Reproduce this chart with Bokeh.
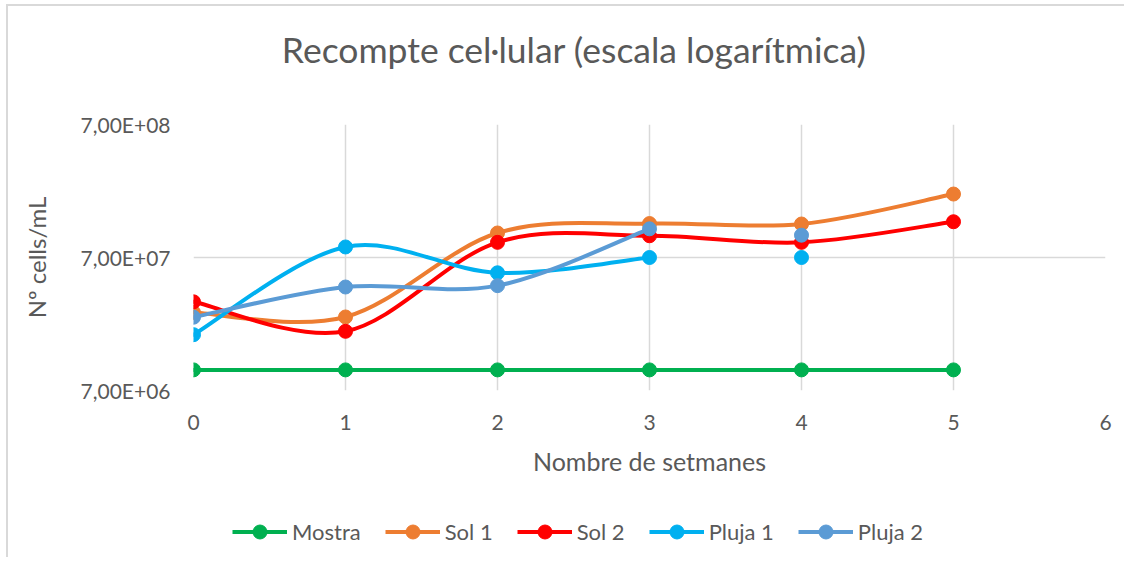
import numpy as np
from bokeh.plotting import figure
from bokeh.layouts import column
from bokeh.models import Range1d, FixedTicker, Legend, LegendItem, Label
from bokeh.embed import file_html
from bokeh.resources import INLINE

# ---------------- data ----------------
title_text = "Recompte cel·lular (escala logarítmica)"
x_label = "Nombre de setmanes"
y_label = "Nº cells/mL"
weeks = [0, 1, 2, 3, 4, 5]
x_ticks = [0, 1, 2, 3, 4, 5, 6]
y_ticks = [7e6, 7e7, 7e8]
y_tick_labels = ["7,00E+06", "7,00E+07", "7,00E+08"]

series_names = ["Mostra", "Sol 1", "Sol 2", "Pluja 1", "Pluja 2"]
mostra = [1.0e7, 1.0e7, 1.0e7, 1.0e7, 1.0e7, 1.0e7]
sol1 = [2.7e7, 2.5e7, 1.07e8, 1.26e8, 1.25e8, 2.1e8]
sol2 = [3.25e7, 1.95e7, 9.1e7, 1.02e8, 9.1e7, 1.3e8]
pluja1 = [1.84e7, 8.4e7, 5.37e7, 7.0e7, 7.0e7]
pluja2 = [2.49e7, 4.2e7, 4.3e7, 1.15e8, 1.03e8]
# how many leading points of each series are joined by the smoothed line
joined = [6, 6, 6, 4, 4]
colors = ["#00B050", "#ED7D31", "#FF0000", "#00B0F0", "#5B9BD5"]
series_values = [mostra, sol1, sol2, pluja1, pluja2]

FONT = "Lato"
TXT = "#595959"
GRID = "#d9d9d9"


def smooth_segments(xs, ys):
    """Excel-like smoothed line: cubic Bezier segments (Catmull-Rom, tension 1/6)
    computed in (x, log10 y) space, returned in data space."""
    X = np.asarray(xs, float)
    L = np.log10(np.asarray(ys, float))
    n = len(X)
    Xp = np.concatenate([[X[0]], X, [X[-1]]])
    Lp = np.concatenate([[L[0]], L, [L[-1]]])
    cx0 = X[:-1] + (Xp[2:n + 1] - Xp[0:n - 1]) / 6.0
    cl0 = L[:-1] + (Lp[2:n + 1] - Lp[0:n - 1]) / 6.0
    cx1 = X[1:] - (Xp[3:n + 2] - Xp[1:n]) / 6.0
    cl1 = L[1:] - (Lp[3:n + 2] - Lp[1:n]) / 6.0
    return dict(x0=X[:-1], y0=10 ** L[:-1], x1=X[1:], y1=10 ** L[1:],
                cx0=cx0, cy0=10 ** cl0, cx1=cx1, cy1=10 ** cl1)


W = 1124
H_TITLE = 90
H_MAIN = 410
H_LEG = 57
ML, MR = 193, 19


def strip(height):
    f = figure(width=W, height=height, output_backend="svg", toolbar_location=None,
               x_axis_location=None, y_axis_location=None,
               x_range=Range1d(0, 1), y_range=Range1d(0, 1),
               min_border_left=ML, min_border_right=MR,
               min_border_top=0, min_border_bottom=0)
    f.outline_line_color = None
    f.xgrid.visible = False
    f.ygrid.visible = False
    f.background_fill_color = None
    f.border_fill_color = None
    return f


# ---- title strip ----
pt = strip(H_TITLE)
pt.add_layout(Label(x=0.4175, y=0.46, text=title_text, text_align="center",
                    text_baseline="middle", text_font=FONT, text_font_size="35.5px",
                    text_color=TXT))

# ---- main chart ----
p = figure(width=W, height=H_MAIN,
           x_range=Range1d(0, 6), y_range=Range1d(7e6, 7e8),
           y_axis_type="log", output_backend="svg", toolbar_location=None,
           min_border_left=ML, min_border_right=MR,
           min_border_top=124 - H_TITLE, min_border_bottom=H_MAIN + H_TITLE - 390)
p.outline_line_color = None
p.background_fill_color = "white"
p.border_fill_color = None

p.xaxis.ticker = FixedTicker(ticks=x_ticks)
p.yaxis.ticker = FixedTicker(ticks=y_ticks)
p.xgrid.ticker = FixedTicker(ticks=x_ticks)
p.ygrid.ticker = FixedTicker(ticks=y_ticks)
p.yaxis.major_label_overrides = {float(t): lab for t, lab in zip(y_ticks, y_tick_labels)}
for ax in (p.xaxis, p.yaxis):
    ax.axis_line_color = None
    ax.major_tick_line_color = None
    ax.minor_tick_line_color = None
    ax.major_label_text_font = FONT
    ax.major_label_text_font_size = "21px"
    ax.major_label_text_color = TXT
    ax.axis_label_text_font = FONT
    ax.axis_label_text_font_style = "normal"
    ax.axis_label_text_color = TXT
p.xaxis.axis_label_text_font_size = "25px"
p.yaxis.axis_label_text_font_size = "24px"
p.xaxis.axis_label = x_label
p.yaxis.axis_label = y_label
p.xaxis.major_label_standoff = 18
p.yaxis.major_label_standoff = 17
p.xaxis.axis_label_standoff = 13
p.yaxis.axis_label_standoff = 27
for g in (p.xgrid, p.ygrid):
    g.grid_line_color = GRID
    g.grid_line_width = 1.5
p.ygrid.minor_grid_line_color = None

for name, vals, n, col in zip(series_names, series_values, joined, colors):
    seg = smooth_segments(weeks[:n], vals[:n])
    p.bezier(x0=seg["x0"], y0=seg["y0"], x1=seg["x1"], y1=seg["y1"],
             cx0=seg["cx0"], cy0=seg["cy0"], cx1=seg["cx1"], cy1=seg["cy1"],
             line_color=col, line_width=4, line_cap="round")
    p.scatter(weeks[:len(vals)], vals, size=14, fill_color=col, line_color=col)

# ---- legend strip (series re-plotted outside its visible range, only the key shows) ----
pl = strip(H_LEG)
pl.x_range = Range1d(-20, -19)
items = []
for name, vals, n, col in zip(series_names, series_values, joined, colors):
    lr = pl.line(weeks[:n], vals[:n], line_color=col, line_width=4)
    sr = pl.scatter(weeks[:len(vals)], vals, size=14, fill_color=col, line_color=col)
    items.append(LegendItem(label=name, renderers=[lr, sr]))

legend = Legend(items=items, orientation="horizontal", location=(39, 8),
                glyph_width=55, glyph_height=35, spacing=24, label_standoff=5,
                padding=0, margin=0, border_line_color=None, background_fill_alpha=0,
                label_text_font=FONT, label_text_font_size="22px", label_text_color=TXT)
pl.add_layout(legend, "center")

layout = column(pt, p, pl, spacing=0, styles={
    "background": ("linear-gradient(#d9d9d9,#d9d9d9) 6px 4px / 2px 100% no-repeat, "
                   "linear-gradient(#d9d9d9,#d9d9d9) 6px 4px / 100% 2px no-repeat, white"),
})
open("out.html", "w").write(file_html(layout, INLINE))
